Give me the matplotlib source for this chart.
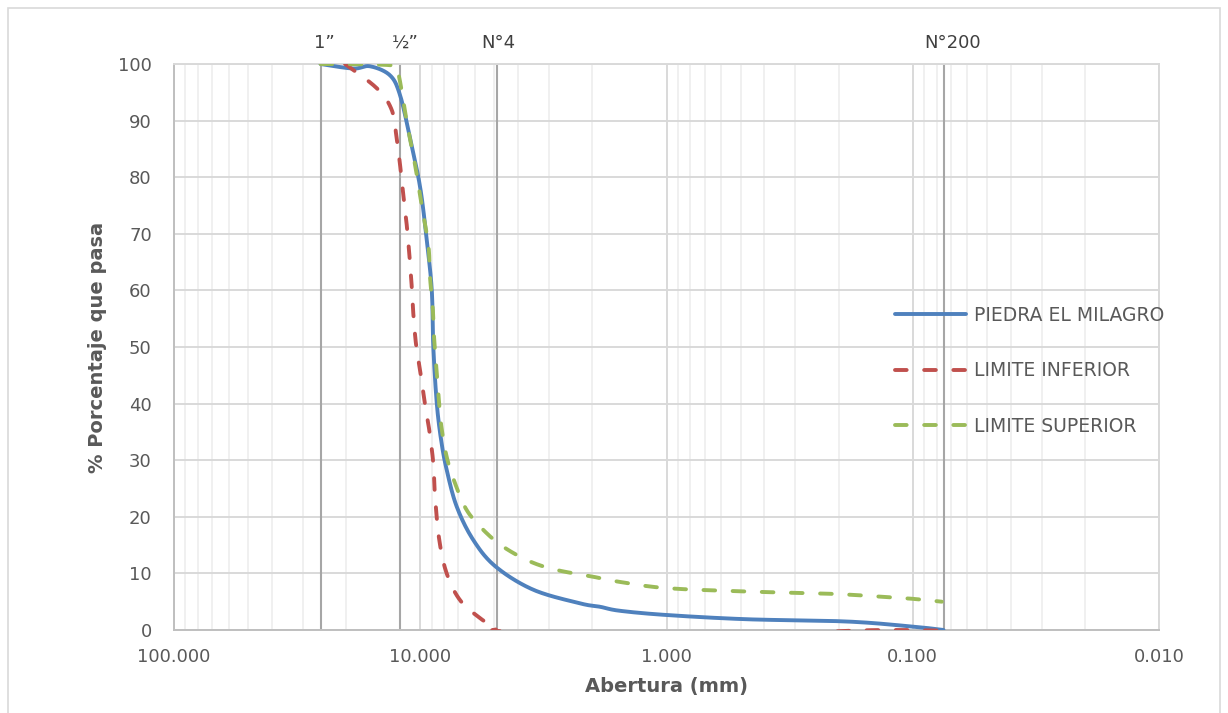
import numpy as np
import matplotlib
matplotlib.use('Agg')
import matplotlib.pyplot as plt
from matplotlib.ticker import FixedLocator, FuncFormatter, NullFormatter
from matplotlib.patches import Rectangle

# sieve openings (mm) and labels for the reference lines
sieve_labels = ['1\u201d', '\u00bd\u201d', 'N\u00b04', 'N\u00b0200']
sieve_mm = [25.4, 12.1, 4.9, 0.075]

# PIEDRA EL MILAGRO
milagro_mm = [25.4, 18.75, 16.0, 13.27, 12.08, 11.0, 10.0, 9.42, 8.98, 8.85, 8.57, 8.23,
              7.81, 7.11, 6.09, 4.94, 3.47, 2.24, 1.86, 1.55, 1.0, 0.472, 0.185, 0.1, 0.075]
milagro_pct = [100, 99.2, 99.6, 98.0, 94.5, 86.9, 78.1, 69.0, 60.1, 50.0, 40.1, 33.6,
               28.3, 21.8, 15.9, 11.2, 7.1, 4.7, 4.1, 3.4, 2.65, 1.9, 1.5, 0.6, 0.0]

# LIMITE INFERIOR
inferior_mm = [20.2, 15.0, 13.06, 12.47, 12.08, 11.72, 11.35, 11.08, 10.83, 10.67, 10.41,
               10.02, 9.63, 9.19, 8.85, 8.71, 8.37, 7.81, 6.90, 5.72, 4.90, 4.46, 1.0, 0.185, 0.075]
inferior_pct = [100, 95.7, 91.9, 86.9, 82.2, 76.9, 71.6, 66.5, 60.7, 55.9, 50.6,
                45.9, 40.6, 35.3, 29.4, 23.6, 15.9, 10.0, 5.3, 2.1, 0.3, -0.3, -2.0, -0.15, -0.1]

# LIMITE SUPERIOR
superior_mm = [25.4, 13.3, 12.47, 12.08, 11.35, 10.5, 9.87, 9.27, 9.13, 8.90, 8.79, 8.63,
               8.45, 8.24, 7.81, 7.22, 6.48, 5.55, 4.60, 3.58, 2.79, 1.98, 1.55, 1.0,
               0.472, 0.217, 0.136, 0.0995, 0.0762]
superior_pct = [100, 99.8, 98.9, 96.9, 89.8, 82.2, 75.1, 68.0, 62.4, 57.1, 51.8, 47.1,
                41.8, 36.5, 30.6, 25.9, 21.2, 17.7, 14.7, 12.1, 10.6, 9.4, 8.5, 7.4,
                6.8, 6.4, 5.9, 5.5, 5.0]

series_names = ['PIEDRA EL MILAGRO', 'LIMITE INFERIOR', 'LIMITE SUPERIOR']
colors = ['#4F81BD', '#C0504D', '#9BBB59']


def smooth_line(x_mm, y, n=16):
    """
        Excel-like smoothed line: Catmull-Rom through the points, in log-x space.
    """
    lx = np.log10(np.asarray(x_mm, float))
    yy = np.asarray(y, float)
    px = np.concatenate([[lx[0]], lx, [lx[-1]]])
    py = np.concatenate([[yy[0]], yy, [yy[-1]]])
    t = np.linspace(0, 1, n, endpoint=False)
    out_x, out_y = [], []
    for i in range(1, len(px) - 2):
        b0x, b3x = px[i], px[i + 1]
        b0y, b3y = py[i], py[i + 1]
        b1x = b0x + (px[i + 1] - px[i - 1]) / 6
        b1y = b0y + (py[i + 1] - py[i - 1]) / 6
        b2x = b3x - (px[i + 2] - px[i]) / 6
        b2y = b3y - (py[i + 2] - py[i]) / 6
        mt = 1 - t
        out_x.append(mt**3 * b0x + 3 * mt**2 * t * b1x + 3 * mt * t**2 * b2x + t**3 * b3x)
        out_y.append(mt**3 * b0y + 3 * mt**2 * t * b1y + 3 * mt * t**2 * b2y + t**3 * b3y)
    out_x.append([lx[-1]])
    out_y.append([yy[-1]])
    return 10 ** np.concatenate(out_x), np.concatenate(out_y)


plt.rcParams['font.family'] = ['DejaVu Sans']

fig = plt.figure(figsize=(12.28, 7.13), dpi=100)
ax = fig.add_axes([174 / 1228, 1 - 630 / 713, 985 / 1228, 566 / 713])

# chart area border
fig.patches.append(Rectangle((8 / 1228, -0.01), 1212 / 1228, 1 - 8 / 713 + 0.01,
                             transform=fig.transFigure, fill=False,
                             edgecolor='#d9d9d9', lw=1.2))

ax.set_xscale('log')
ax.set_xlim(100, 0.01)
ax.set_ylim(0, 100)

ax.xaxis.set_major_locator(FixedLocator([100, 10, 1, 0.1, 0.01]))
ax.xaxis.set_major_formatter(FuncFormatter(lambda v, p: '%.3f' % v))
minor = [m * 10.0 ** e for e in range(-2, 2) for m in range(2, 10)]
ax.xaxis.set_minor_locator(FixedLocator(minor))
ax.xaxis.set_minor_formatter(NullFormatter())
ax.set_yticks(np.arange(0, 101, 10))

ax.grid(which='minor', axis='x', color='#f0f0f0', lw=1.4)
ax.grid(which='major', axis='x', color='#d9d9d9', lw=1.4)
ax.grid(which='major', axis='y', color='#d9d9d9', lw=1.4)
ax.set_axisbelow(True)
ax.tick_params(which='both', length=0)
ax.tick_params(axis='y', pad=16, labelsize=13, labelcolor='#595959')
ax.tick_params(axis='x', pad=13, labelsize=13, labelcolor='#595959')

for side in ['top', 'right']:
    ax.spines[side].set_color('#d9d9d9')
for side in ['left', 'bottom']:
    ax.spines[side].set_color('#bfbfbf')
for sp in ax.spines.values():
    sp.set_linewidth(1.4)

# sieve reference lines and labels
label_dx = [3, 4, 1, 6.5]
for lab, mm, dx in zip(sieve_labels, sieve_mm, label_dx):
    ax.axvline(mm, color='#a6a6a6', lw=1.5, zorder=1.5)
    ax.annotate(lab, xy=(mm, 100), xycoords='data', xytext=(dx, 9),
                textcoords='offset points', ha='center', va='bottom',
                fontsize=13, color='#404040', annotation_clip=False)

sx, sy = smooth_line(milagro_mm, milagro_pct)
ax.plot(sx, sy, color=colors[0], lw=2.8, label=series_names[0],
        solid_capstyle='round', solid_joinstyle='round', zorder=3)
sx, sy = smooth_line(inferior_mm, inferior_pct)
ax.plot(sx, sy, color=colors[1], lw=2.8, label=series_names[1],
        dashes=(3, 4.5), dash_capstyle='round', zorder=3)
sx, sy = smooth_line(superior_mm, superior_pct)
ax.plot(sx, sy, color=colors[2], lw=2.8, label=series_names[2],
        dashes=(3, 4.5), dash_capstyle='round', zorder=3)

ax.set_ylabel('% Porcentaje que pasa', fontsize=14, fontweight='bold', color='#595959',
              labelpad=8)
ax.set_xlabel('Abertura (mm)', fontsize=14, fontweight='bold', color='#595959', labelpad=8)

ax.legend(loc='upper left', bbox_to_anchor=(0.732, 0.573), frameon=False, fontsize=13.5,
          handlelength=3.8, handletextpad=0.4, labelspacing=1.95, borderpad=0,
          borderaxespad=0, labelcolor='#595959')

fig.savefig('out.png', dpi=100)
